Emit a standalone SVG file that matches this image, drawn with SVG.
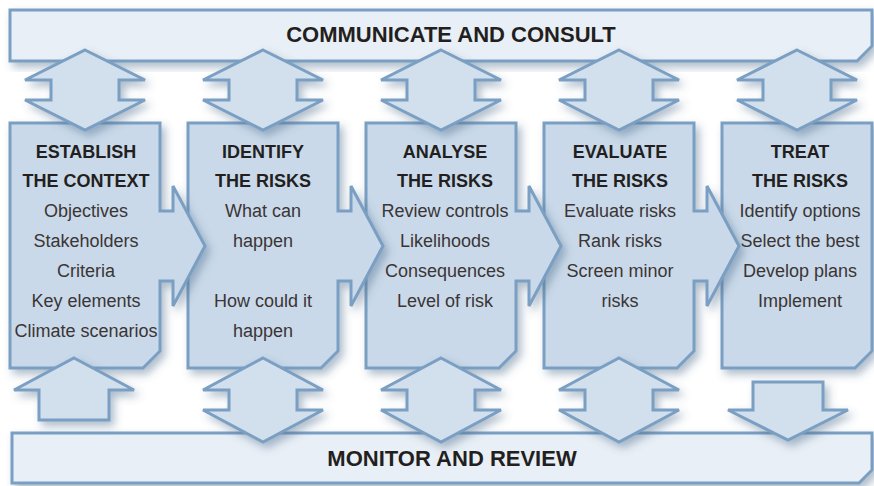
<svg xmlns="http://www.w3.org/2000/svg" width="874" height="486" viewBox="0 0 874 486">
<defs>
<filter id="sh" x="-20%" y="-20%" width="140%" height="140%">
<feDropShadow dx="4" dy="5" stdDeviation="4" flood-color="#4d6d8e" flood-opacity="0.45"/>
</filter>
<style>
.bar{fill:#e9eff6;stroke:#7a9fc3;stroke-width:3;stroke-linejoin:miter}
.box{fill:#c9d9e9;stroke:#7a9fc3;stroke-width:3;stroke-linejoin:miter}
.arr{fill:#d2dfec;stroke:#7a9fc3;stroke-width:3;stroke-linejoin:miter}
.bt{font-family:"Liberation Sans",Arial,sans-serif;font-weight:bold;font-size:22px;fill:#231f20;text-anchor:middle}
.tt{font-family:"Liberation Sans",Arial,sans-serif;font-weight:bold;font-size:18px;fill:#231f20;text-anchor:middle}
.tx{font-family:"Liberation Sans",Arial,sans-serif;font-size:18px;fill:#3b3535;text-anchor:middle}
</style>
</defs>
<rect width="874" height="486" fill="#ffffff"/>

<g id="communicate" filter="url(#sh)">
<polygon class="bar" points="10,10 872,10 872,46 857,61 10,61"/>
</g>
<text class="bt" x="451" y="42">COMMUNICATE AND CONSULT</text>

<g id="monitor" filter="url(#sh)">
<polygon class="bar" points="12,433 872,433 872,470 859,483 12,483"/>
</g>
<text class="bt" x="452" y="466">MONITOR AND REVIEW</text>

<g id="treat">
<polygon class="box" filter="url(#sh)" points="722,123 872,123 872,351 855,368 722,368"/>
<text class="tt" x="800" y="158">TREAT</text>
<text class="tt" x="800" y="187">THE RISKS</text>
<text class="tx" x="800" y="217">Identify options</text>
<text class="tx" x="800" y="247">Select the best</text>
<text class="tx" x="800" y="277">Develop plans</text>
<text class="tx" x="800" y="307">Implement</text>
</g>

<g id="evaluate">
<polygon class="box" filter="url(#sh)" points="544,123 694,123 694,211 707,211 707,186 739,246 707,306 707,281 694,281 694,351 677,368 544,368"/>
<text class="tt" x="620" y="158">EVALUATE</text>
<text class="tt" x="620" y="187">THE RISKS</text>
<text class="tx" x="620" y="217">Evaluate risks</text>
<text class="tx" x="620" y="247">Rank risks</text>
<text class="tx" x="620" y="277">Screen minor</text>
<text class="tx" x="620" y="307">risks</text>
</g>

<g id="analyse">
<polygon class="box" filter="url(#sh)" points="366,123 516,123 516,211 529,211 529,186 561,246 529,306 529,281 516,281 516,351 499,368 366,368"/>
<text class="tt" x="445" y="158">ANALYSE</text>
<text class="tt" x="445" y="187">THE RISKS</text>
<text class="tx" x="445" y="217">Review controls</text>
<text class="tx" x="445" y="247">Likelihoods</text>
<text class="tx" x="445" y="277">Consequences</text>
<text class="tx" x="445" y="307">Level of risk</text>
</g>

<g id="identify">
<polygon class="box" filter="url(#sh)" points="188,123 338,123 338,211 351,211 351,186 383,246 351,306 351,281 338,281 338,351 321,368 188,368"/>
<text class="tt" x="263" y="158">IDENTIFY</text>
<text class="tt" x="263" y="187">THE RISKS</text>
<text class="tx" x="263" y="217">What can</text>
<text class="tx" x="263" y="247">happen</text>
<text class="tx" x="263" y="307">How could it</text>
<text class="tx" x="263" y="337">happen</text>
</g>

<g id="establish">
<polygon class="box" filter="url(#sh)" points="10,123 160,123 160,211 173,211 173,186 205,246 173,306 173,281 160,281 160,351 143,368 10,368"/>
<text class="tt" x="86" y="158">ESTABLISH</text>
<text class="tt" x="86" y="187">THE CONTEXT</text>
<text class="tx" x="86" y="217">Objectives</text>
<text class="tx" x="86" y="247">Stakeholders</text>
<text class="tx" x="86" y="277">Criteria</text>
<text class="tx" x="86" y="307">Key elements</text>
<text class="tx" x="86" y="337">Climate scenarios</text>
</g>

<g id="connectors" filter="url(#sh)">
<polygon class="arr" points="85,50 145,80 119,80 119,100 145,100 85,130 25,100 51,100 51,80 25,80"/>
<polygon class="arr" points="263,50 323,80 297,80 297,100 323,100 263,130 203,100 229,100 229,80 203,80"/>
<polygon class="arr" points="441,50 501,80 475,80 475,100 501,100 441,130 381,100 407,100 407,80 381,80"/>
<polygon class="arr" points="619,50 679,80 653,80 653,100 679,100 619,130 559,100 585,100 585,80 559,80"/>
<polygon class="arr" points="797,50 857,80 831,80 831,100 857,100 797,130 737,100 763,100 763,80 737,80"/>
<polygon class="arr" points="74,358 134,390 109,390 109,420 39,420 39,390 14,390"/>
<polygon class="arr" points="263,358 323,390 297,390 297,410 323,410 263,442 203,410 229,410 229,390 203,390"/>
<polygon class="arr" points="441,358 501,390 475,390 475,410 501,410 441,442 381,410 407,410 407,390 381,390"/>
<polygon class="arr" points="619,358 679,390 653,390 653,410 679,410 619,442 559,410 585,410 585,390 559,390"/>
<polygon class="arr" points="753,382 823,382 823,410 848,410 788,440 728,410 753,410"/>
</g>
</svg>
